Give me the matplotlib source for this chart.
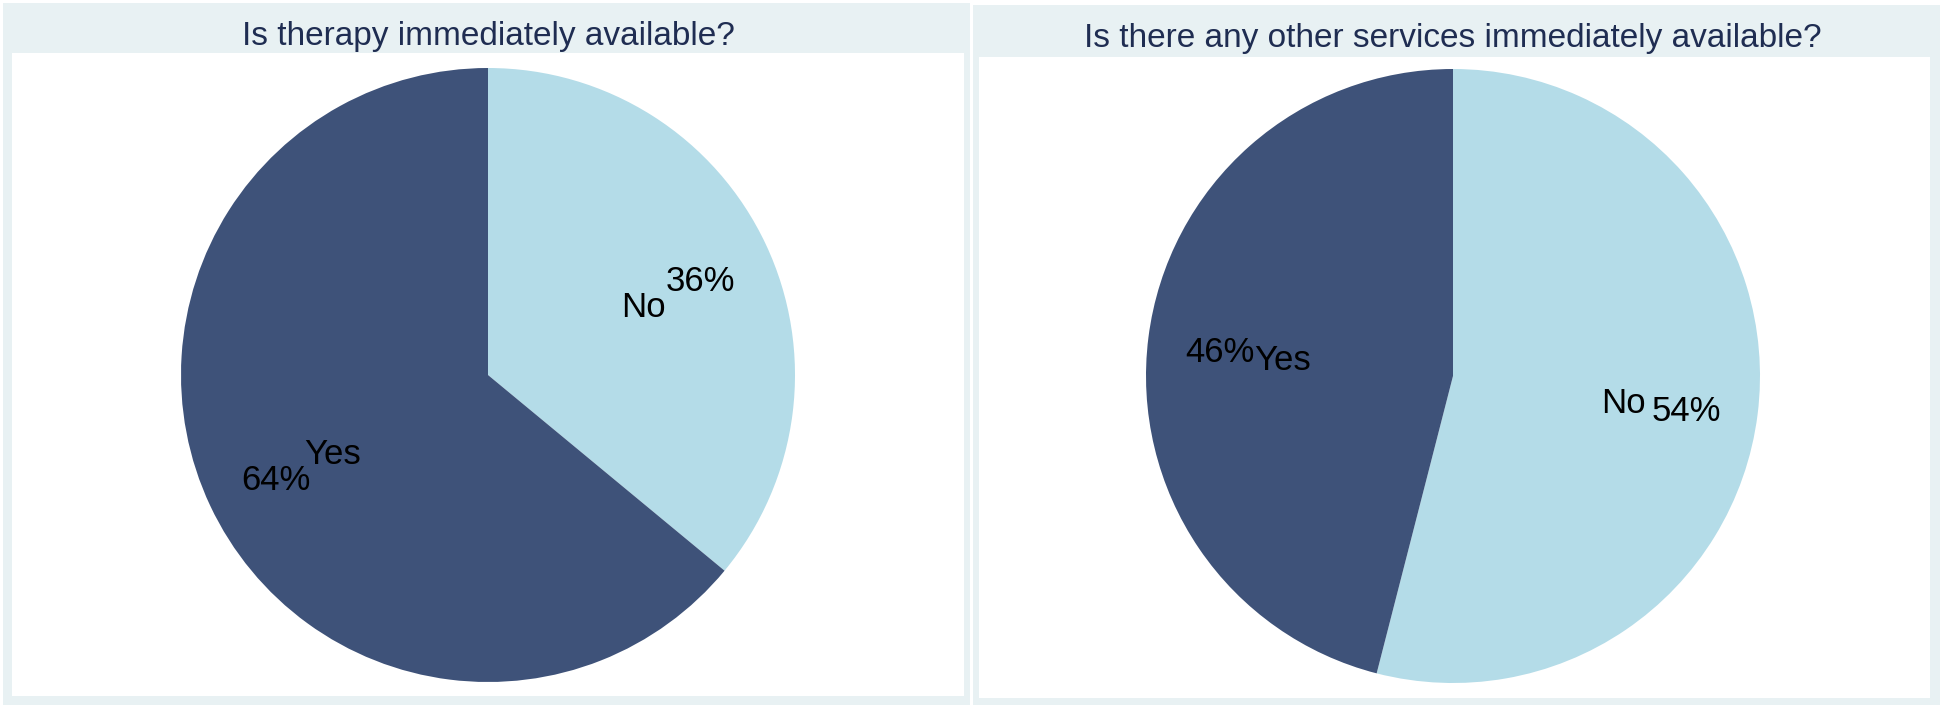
import matplotlib
matplotlib.use("Agg")
import matplotlib.pyplot as plt
from matplotlib.patches import Rectangle
from matplotlib.transforms import ScaledTranslation

plt.rcParams['font.family'] = ['Liberation Sans', 'DejaVu Sans']

titles = ["Is therapy immediately available?",
          "Is there any other services immediately available?"]
categories = ["No", "Yes"]
values_therapy = [36, 64]
values_other = [54, 46]
colors = {"No": "#b4dce8", "Yes": "#3e5279"}

W, H = 1942, 705
fig = plt.figure(figsize=(W / 100, H / 100), dpi=100)
fig.patch.set_facecolor("white")

band = "#e8f1f3"
# panel backgrounds (title band + white plot area), in pixels
panels = [
    dict(outer=(3, 0, 967, 702), inner=(12, 9, 952, 643), cx=488, cy=375, ty=36),
    dict(outer=(973, 0, 967, 700), inner=(979, 7, 951, 641), cx=1453, cy=376, ty=39),
]
for p in panels:
    x, y, w, h = p["outer"]
    fig.add_artist(Rectangle((x / W, y / H), w / W, h / H, transform=fig.transFigure,
                             facecolor=band, edgecolor="none", zorder=-10))
    x, y, w, h = p["inner"]
    fig.add_artist(Rectangle((x / W, y / H), w / W, h / H, transform=fig.transFigure,
                             facecolor="white", edgecolor="none", zorder=-9))

R = 307
shift = ScaledTranslation(0, -6 / 100, fig.dpi_scale_trans)
for p, title, vals in zip(panels, titles, [values_therapy, values_other]):
    cx, cy = p["cx"], p["cy"]
    ax = fig.add_axes([(cx - R) / W, (H - cy - R) / H, 2 * R / W, 2 * R / H])
    ax.set_zorder(5)
    wedges, texts, autotexts = ax.pie(
        vals, labels=categories, colors=[colors[c] for c in categories],
        startangle=90, counterclock=False, autopct="%d%%",
        labeldistance=0.56, pctdistance=0.765,
        textprops=dict(fontsize=25, color="black"))
    for t in texts:
        t.set_ha("center")
    for t in list(texts) + list(autotexts):
        t.set_transform(t.get_transform() + shift)
    ax.set_xlim(-1, 1)
    ax.set_ylim(-1, 1)
    ax.set_aspect("equal")
    ax.axis("off")
    fig.text(cx / W, 1 - p["ty"] / H, title, ha="center", va="center",
             fontsize=24, color="#1f2d52")

fig.savefig("out.png", dpi=100)
